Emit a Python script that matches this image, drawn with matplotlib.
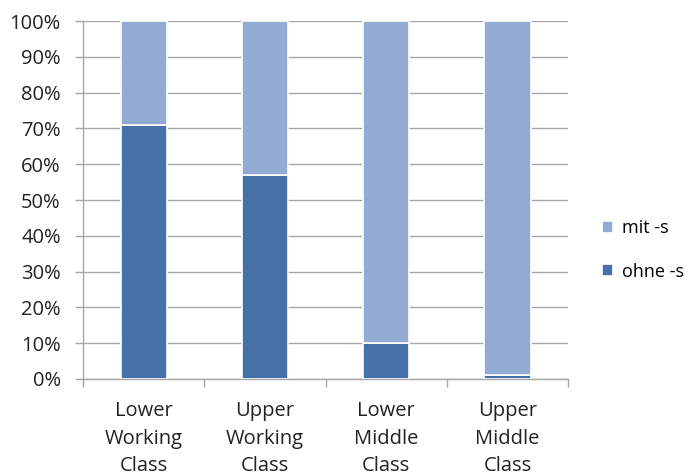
import matplotlib
matplotlib.use('Agg')
import matplotlib.pyplot as plt
import numpy as np
from matplotlib.ticker import PercentFormatter, MultipleLocator, FixedLocator

# Anteil mit / ohne -s je Schicht (in %)
categories = ['Lower\nWorking\nClass', 'Upper\nWorking\nClass',
              'Lower\nMiddle\nClass', 'Upper\nMiddle\nClass']
ohne_s = [71, 57, 10, 1]
mit_s = [100 - v for v in ohne_s]

dark = '#4571A7'
light = '#93AAD2'
grid_col = '#A6A6A6'

plt.rcParams['font.family'] = ['Open Sans', 'DejaVu Sans']

fig = plt.figure(figsize=(6.93, 4.76), dpi=100)
ax = fig.add_axes([0.1198, 0.2038, 0.7, 0.752])

x = np.arange(len(categories))
w = 0.38
ax.bar(x, ohne_s, w, color=dark, edgecolor='white', linewidth=1.2, label='ohne -s', zorder=3)
ax.bar(x, mit_s, w, bottom=ohne_s, color=light, edgecolor='white', linewidth=1.2,
       label='mit -s', zorder=3)

ax.set_xlim(-0.5, len(categories) - 0.5)
ax.set_ylim(0, 100)
ax.yaxis.set_major_locator(MultipleLocator(10))
ax.yaxis.set_major_formatter(PercentFormatter(decimals=0))
ax.grid(axis='y', color=grid_col, linewidth=1, zorder=0)

ax.set_xticks(x)
ax.set_xticklabels(categories, linespacing=1.5)
ax.xaxis.set_minor_locator(FixedLocator(np.arange(-0.5, len(categories), 1.0)))
ax.tick_params(axis='x', which='major', length=0, pad=16, labelsize=14.5, colors='#222222')
ax.tick_params(axis='x', which='minor', length=6, color=grid_col, width=1)
ax.tick_params(axis='y', length=6, color=grid_col, width=1, pad=10, labelsize=14.5,
               labelcolor='#222222')

for side in ['top', 'right']:
    ax.spines[side].set_visible(False)
for side in ['left', 'bottom']:
    ax.spines[side].set_color(grid_col)
    ax.spines[side].set_linewidth(1)

handles, labels = ax.get_legend_handles_labels()
leg = fig.legend(handles[::-1], labels[::-1], loc='center left',
                 bbox_to_anchor=(0.845, 0.475), frameon=False, fontsize=13,
                 handlelength=0.6, handleheight=0.6, handletextpad=0.5,
                 labelspacing=1.4)

plt.savefig('out.png', dpi=100)
plt.close()
